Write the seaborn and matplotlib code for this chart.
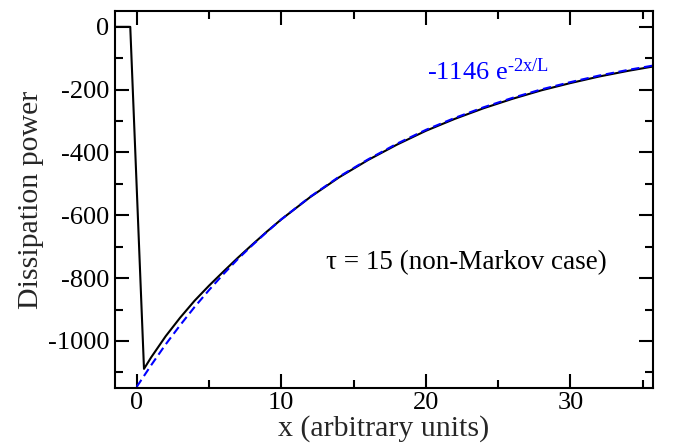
import matplotlib
matplotlib.use("Agg")
import matplotlib.pyplot as plt
import seaborn as sns
import pandas as pd
from matplotlib.ticker import MultipleLocator

# Black solid curve: dissipation power (tau = 15)
x_black = [-1.5, -0.45, 0.5, 1, 2, 3, 4, 5, 6, 7, 8, 9, 10, 12, 14, 16, 18, 20,
           22, 24, 26, 28, 30, 32, 34, 36]
y_black = [0, 0, -1089, -1052, -985, -926, -872, -824, -779, -735, -693, -652, -613,
           -542, -479, -424, -375, -331, -293, -259, -229, -202, -179, -158, -140, -124]

# Blue dashed curve: fit -1146 e^{-2x/L}
x_fit = [0, 1, 2, 3, 4, 5, 6, 7, 8, 9, 10, 12, 14, 16, 18, 20, 22, 24, 26, 28,
         30, 32, 34, 36]
y_fit = [-1146, -1077, -1011, -950, -892, -838, -787, -739, -695, -653, -613,
         -541, -477, -422, -372, -328, -290, -256, -226, -199, -176, -155, -137, -121]

x_ticks = [0, 10, 20, 30]
x_ticklabels = ["0", "10", "20", "30"]
y_ticks = [0, -200, -400, -600, -800, -1000]
y_ticklabels = ["0", "-200", "-400", "-600", "-800", "-1000"]

x_label = "x (arbitrary units)"
y_label = "Dissipation power"
fit_label = "-1146 e$^{\\mathrm{\u20102x/L}}$"
case_label = "\u03c4 = 15 (non-Markov case)"

sns.set_theme(style="ticks")
plt.rcParams["font.family"] = ["Liberation Serif", "DejaVu Serif"]
plt.rcParams["mathtext.fontset"] = "custom"
plt.rcParams["mathtext.rm"] = "Liberation Serif"
plt.rcParams["mathtext.it"] = "Liberation Serif:italic"

fig = plt.figure(figsize=(6.73, 4.46), dpi=100)
ax = fig.add_axes([0.171, 0.130, 0.799, 0.845])

df_b = pd.DataFrame({"x": x_black, "y": y_black})
df_f = pd.DataFrame({"x": x_fit, "y": y_fit})
sns.lineplot(data=df_b, x="x", y="y", ax=ax, color="black", lw=1.5, sort=False)
sns.lineplot(data=df_f, x="x", y="y", ax=ax, color=(0, 0, 1), lw=1.5,
             linestyle=(0, (4, 2.2)), sort=False)

ax.set_xlim(-1.5, 35.7)
ax.set_ylim(-1150, 50)
ax.xaxis.set_minor_locator(MultipleLocator(5))
ax.yaxis.set_minor_locator(MultipleLocator(100))
ax.set_yticks(y_ticks)
ax.set_yticklabels(y_ticklabels)
ax.set_xticks(x_ticks)
ax.set_xticklabels(x_ticklabels)
ax.tick_params(which="both", direction="in", top=True, right=True, width=1.5,
               labelsize=19, colors="black")
ax.tick_params(which="major", length=10)
ax.tick_params(axis="y", which="major", pad=4)
ax.tick_params(axis="x", which="major", pad=3)
ax.tick_params(which="minor", length=5.5)
for s in ax.spines.values():
    s.set_linewidth(1.5)
    s.set_color("black")

ax.set_xlabel(x_label, fontsize=21.5, labelpad=0.5)
ax.set_ylabel(y_label, fontsize=21.5, labelpad=3)

ax.text(20.1, -170, fit_label, color=(0, 0, 1), fontsize=19)
ax.text(13.1, -770, case_label, color="black", fontsize=19.5)

fig.savefig("out.png", dpi=100)
